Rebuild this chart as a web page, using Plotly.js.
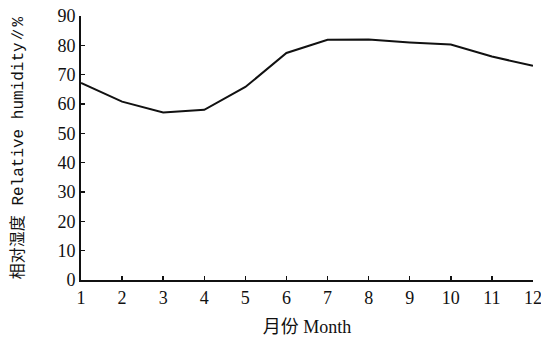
<!DOCTYPE html>
<html><head><meta charset="utf-8">
<script src="https://cdn.plot.ly/plotly-3.0.1.min.js"></script>
<style>html,body{margin:0;padding:0;background:#fff}#chart{width:541px;height:341px}</style>
</head><body><div id="chart"></div>
<script>
const months = [1,2,3,4,5,6,7,8,9,10,11,12];
const humidity = [67.2, 60.8, 57.1, 58.0, 65.8, 77.4, 81.9, 82.0, 81.0, 80.3, 76.2, 73.0];
const yTicks = [0,10,20,30,40,50,60,70,80,90];

const trace = {
  x: months, y: humidity, type: 'scatter', mode: 'lines',
  line: {color: '#111', width: 2}, hoverinfo: 'skip'
};
const layout = {
  width: 541, height: 341,
  margin: {l: 81, r: 8, t: 16, b: 61},
  paper_bgcolor: '#fff', plot_bgcolor: '#fff',
  showlegend: false,
  font: {family: '"Liberation Serif", serif', color: '#111', size: 18},
  xaxis: {
    range: [1, 12], tickvals: months, ticktext: months.map(String),
    showgrid: false, zeroline: false, showline: true, linecolor: '#111', linewidth: 2,
    ticks: 'inside', ticklen: 4, tickwidth: 1.5, tickcolor: '#111',
    ticklabeloverflow: 'allow',
    tickfont: {size: 18, family: '"Liberation Serif", serif'},
    title: {text: '月份 Month', font: {size: 18, family: '"Liberation Serif", "Noto Sans CJK SC", serif'}, standoff: 14}
  },
  yaxis: {
    range: [0, 90], tickvals: yTicks, ticktext: yTicks.map(String),
    showgrid: false, zeroline: false, showline: true, linecolor: '#111', linewidth: 2,
    ticks: 'inside', ticklen: 4, tickwidth: 1.5, tickcolor: '#111',
    ticklabeloverflow: 'allow',
    tickfont: {size: 18, family: '"Liberation Serif", serif'},
    title: {text: '相对湿度 Relative humidity∥%', font: {size: 16, family: '"Liberation Mono", "Noto Sans CJK SC", monospace'}, standoff: 30}
  }
};
Plotly.newPlot('chart', [trace], layout, {staticPlot: true, displayModeBar: false});
</script></body></html>
